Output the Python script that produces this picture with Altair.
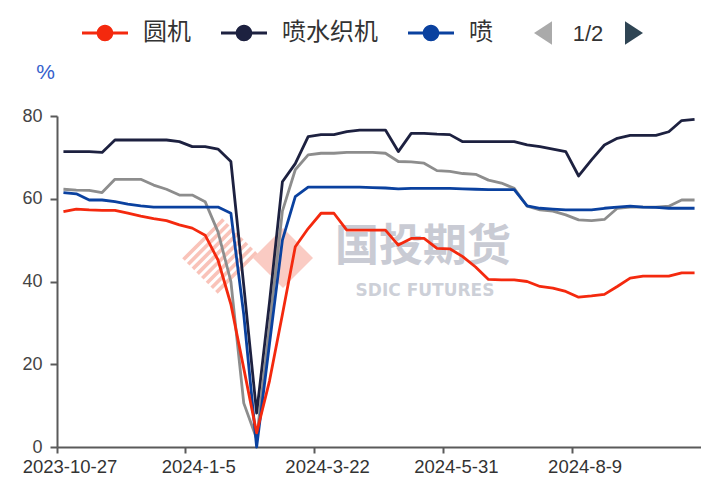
import altair as alt
import pandas as pd

# ---------------- data ----------------
dates = [
    "2023-10-27", "2023-11-3", "2023-11-10", "2023-11-17", "2023-11-24",
    "2023-12-1", "2023-12-8", "2023-12-15", "2023-12-22", "2023-12-29",
    "2024-1-5", "2024-1-12", "2024-1-19", "2024-1-26", "2024-2-2",
    "2024-2-8", "2024-2-23", "2024-3-1", "2024-3-8", "2024-3-15",
    "2024-3-22", "2024-3-29", "2024-4-5", "2024-4-12", "2024-4-19",
    "2024-4-26", "2024-5-3", "2024-5-10", "2024-5-17", "2024-5-24",
    "2024-5-31", "2024-6-7", "2024-6-14", "2024-6-21", "2024-6-28",
    "2024-7-5", "2024-7-12", "2024-7-19", "2024-7-26", "2024-8-2",
    "2024-8-9", "2024-8-16", "2024-8-23", "2024-8-30", "2024-9-6",
    "2024-9-13", "2024-9-20", "2024-9-27", "2024-10-4", "2024-10-11",
]

yuanji = [56.9, 57.5, 57.3, 57.2, 57.2, 56.5, 55.8, 55.2, 54.7, 53.7,
          52.9, 51.2, 45.2, 34.5, 19.0, 3.4, 16.0, 32.0, 48.4, 52.8,
          56.5, 56.5, 52.4, 52.4, 52.4, 52.4, 48.8, 50.4, 50.4, 48.0,
          47.9, 46.0, 43.5, 40.5, 40.4, 40.4, 40.0, 38.8, 38.4, 37.6,
          36.2, 36.5, 36.9, 38.8, 40.8, 41.3, 41.3, 41.3, 42.1, 42.1]

penshui = [71.4, 71.4, 71.4, 71.2, 74.2, 74.2, 74.2, 74.2, 74.2, 73.8,
           72.6, 72.6, 72.0, 69.0, 39.0, 8.2, 35.0, 64.1, 68.5, 75.0,
           75.5, 75.5, 76.2, 76.6, 76.6, 76.6, 71.4, 75.8, 75.8, 75.6,
           75.5, 73.8, 73.8, 73.8, 73.8, 73.8, 73.0, 72.6, 72.0, 71.4,
           65.5, 69.4, 73.0, 74.6, 75.3, 75.3, 75.3, 76.2, 78.9, 79.2]

penqi = [61.5, 61.2, 59.7, 59.7, 59.3, 58.7, 58.3, 58.0, 58.0, 58.0,
         58.0, 58.0, 58.0, 56.5, 32.0, 0.0, 25.0, 50.0, 60.5, 62.8,
         62.8, 62.8, 62.8, 62.8, 62.7, 62.6, 62.4, 62.5, 62.5, 62.5,
         62.5, 62.4, 62.3, 62.2, 62.2, 62.2, 58.3, 57.7, 57.5, 57.3,
         57.3, 57.3, 57.7, 58.0, 58.2, 58.0, 57.9, 57.7, 57.7, 57.7]

jingbian = [62.3, 62.1, 62.0, 61.5, 64.7, 64.7, 64.7, 63.3, 62.3, 60.9,
            60.9, 59.3, 52.0, 40.0, 10.6, 2.0, 29.0, 57.0, 67.0, 70.6,
            71.0, 71.0, 71.2, 71.2, 71.2, 71.0, 69.0, 68.9, 68.6, 66.8,
            66.6, 66.1, 65.9, 64.5, 63.8, 62.5, 58.2, 57.3, 57.0, 56.1,
            54.9, 54.7, 55.0, 57.7, 58.0, 58.0, 58.0, 58.2, 59.7, 59.7]

series_names = ["圆机", "喷水织机", "喷气织机", "经编机"]
series_colors = ["#f4290e", "#1d2140", "#0a419f", "#8d8d8d"]
series_values = [yuanji, penshui, penqi, jingbian]

tick_labels = [dates[0], dates[10], dates[20], dates[30], dates[40]]
y_ticks = [0, 20, 40, 60, 80]

rows = []
for name, vals in zip(series_names, series_values):
    for d, v in zip(dates, vals):
        rows.append({"date": d, "series": name, "value": v})
df = pd.DataFrame(rows)

# ---------------- styling ----------------
W, H = 644, 331
AXIS_COLOR = "#5a5a5a"
LABEL_FONT = "Liberation Sans"
CJK_FONT = "Noto Sans CJK SC"

x_enc = alt.X(
    "date:O",
    sort=dates,
    bandPosition=0.5,
    scale=alt.Scale(type="band", paddingInner=0, paddingOuter=0),
    axis=alt.Axis(
        values=tick_labels, bandPosition=0, labelOffset=6.5, labelAngle=0,
        title=None, grid=False, tickSize=6, tickWidth=2, tickColor=AXIS_COLOR,
        domainColor=AXIS_COLOR, domainWidth=2, labelFont=LABEL_FONT,
        labelFontSize=18.5, labelColor="#333333", labelPadding=4,
        labelOverlap=False,
    ),
)

y_enc = alt.Y(
    "value:Q",
    scale=alt.Scale(domain=[0, 80], nice=False),
    axis=alt.Axis(
        values=y_ticks, grid=False, tickSize=7, tickWidth=2, tickColor=AXIS_COLOR,
        domainColor=AXIS_COLOR, domainWidth=2, labelFont=LABEL_FONT,
        labelFontSize=18, labelColor="#444444", labelPadding=8,
        title="%", titleAngle=0, titleX=-12, titleY=-44, titleAlign="center",
        titleBaseline="middle", titleColor="#3560cc", titleFontSize=21,
        titleFont=LABEL_FONT, titleFontWeight="normal",
    ),
)

# ---------------- watermark ----------------
def stripes_path(n=8, w=0.065):
    parts = []
    for k in range(n):
        t0 = 0.03 + k * (0.94 / n)
        t1 = t0 + w
        parts.append(
            f"M{-1 + t0:.3f},{t0:.3f}L{t0:.3f},{t0 - 1:.3f}"
            f"L{t1:.3f},{t1 - 1:.3f}L{-1 + t1:.3f},{t1:.3f}Z"
        )
    return "".join(parts)

one = pd.DataFrame({"k": [0]})
hatch = alt.Chart(one).mark_point(
    shape=stripes_path(), filled=True, color="#f7b4a7", opacity=0.8, size=6400
).encode(x=alt.value(164), y=alt.value(141))
solid = alt.Chart(one).mark_point(
    shape="diamond", filled=True, color="#f9c2b8", opacity=0.85, size=3600
).encode(x=alt.value(226), y=alt.value(142))
wm_text = alt.Chart(pd.DataFrame({"t": ["国投期货"]})).mark_text(
    font=CJK_FONT, fontSize=44, fontWeight="bold", color="#c9cbd4", align="center",
    baseline="middle"
).encode(text="t:N", x=alt.value(366), y=alt.value(132))
wm_sub = alt.Chart(pd.DataFrame({"t": ["SDIC FUTURES"]})).mark_text(
    font="DejaVu Sans", fontSize=17, fontWeight="bold", color="#cdd0d8", align="center",
    baseline="middle"
).encode(text="t:N", x=alt.value(368), y=alt.value(175))

# ---------------- series lines ----------------
draw_order = ["经编机", "喷水织机", "喷气织机", "圆机"]
color_of = dict(zip(series_names, series_colors))
lines = [
    alt.Chart(df).transform_filter(alt.datum.series == nm).mark_line(
        color=color_of[nm], strokeWidth=2.8, strokeJoin="round"
    ).encode(x=x_enc, y=y_enc)
    for nm in draw_order
]

# ---------------- legend (first page of three entries) ----------------
legend_path = (
    "M-1,-0.065L1,-0.065L1,0.065L-1,0.065Z"
    "M0.36,0A0.36,0.36 0 1 1 -0.36,0A0.36,0.36 0 1 1 0.36,0Z"
)
legend_layer = alt.Chart(df).transform_filter(alt.datum.value < -1000).mark_point(
    filled=True, opacity=1
).encode(
    x=x_enc, y=y_enc,
    fill=alt.Fill(
        "series:N",
        scale=alt.Scale(domain=series_names, range=series_colors),
        legend=alt.Legend(
            values=series_names[:3], orient="none", legendX=25, legendY=-106,
            direction="horizontal", title=None, symbolType=legend_path,
            symbolSize=2116, symbolStrokeWidth=0, symbolOpacity=1,
            labelFont=CJK_FONT, labelFontSize=24, labelColor="#333333",
            labelOffset=15, columnPadding=30,
            labelExpr="datum.label == '喷气织机' ? '喷' : datum.label",
        ),
    ),
)

# pagination indicator of the legend
arrow_left = alt.Chart(one).mark_point(
    shape="M1,-1.3L-1,0L1,1.3Z", filled=True, color="#aaaaaa", size=324, opacity=1
).encode(x=alt.value(486), y=alt.value(-83))
arrow_right = alt.Chart(one).mark_point(
    shape="M-1,-1.3L1,0L-1,1.3Z", filled=True, color="#2f4554", size=324, opacity=1
).encode(x=alt.value(577), y=alt.value(-83))
page_text = alt.Chart(pd.DataFrame({"t": ["1/2"]})).mark_text(
    font=LABEL_FONT, fontSize=22, color="#333333", align="center", baseline="middle"
).encode(text="t:N", x=alt.value(531), y=alt.value(-82))

chart = alt.layer(
    hatch, solid, wm_text, wm_sub, legend_layer, *lines,
    arrow_left, page_text, arrow_right,
).properties(
    width=W, height=H,
    padding={"left": 49, "top": 108, "right": 0, "bottom": 29},
    autosize=alt.AutoSizeParams(type="none"),
    background="white",
).configure_view(stroke=None)

chart.save("out.html", embed_options={"renderer": "svg", "actions": False})
